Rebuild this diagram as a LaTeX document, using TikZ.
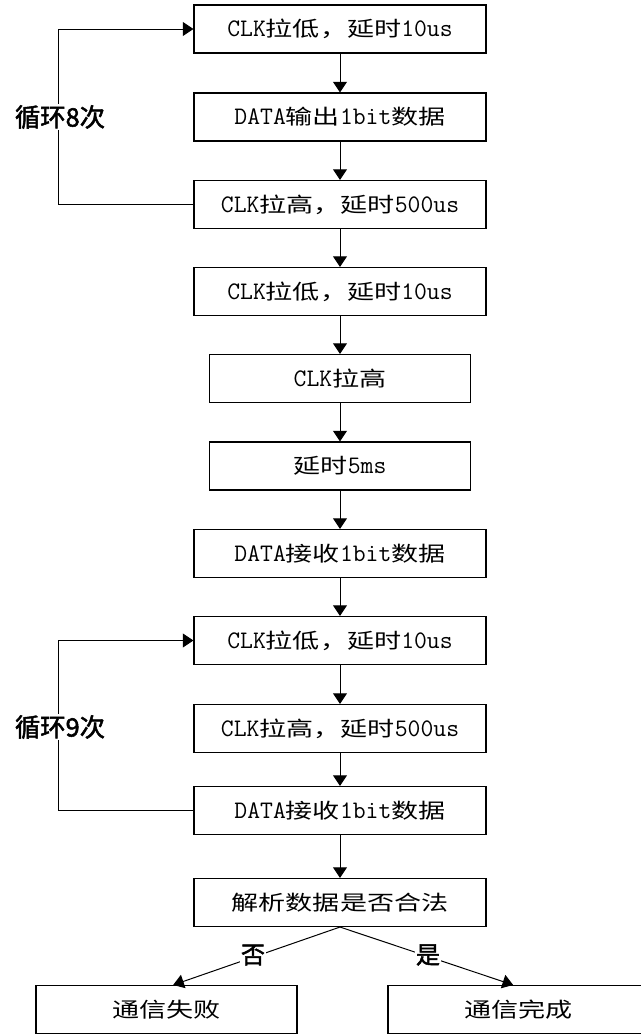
\documentclass[tikz,border=0pt]{standalone}
\usepackage{fontspec}
\setmainfont[FakeStretch=1.31]{Noto Sans CJK SC}
\newfontfamily\lat[Scale=1.22,FakeStretch=0.99]{Latin Modern Mono}
\newfontfamily\cjkb[FakeBold=2]{Noto Sans CJK SC}
\usetikzlibrary{arrows.meta}
\tikzset{
  wbox/.style={draw, line width=0.8pt, minimum width=219pt, minimum height=36pt, inner sep=0pt,
    font=\fontsize{15.5pt}{18pt}\selectfont},
  nbox/.style={wbox, minimum width=195.75pt},
  arr/.style={line width=0.75pt, -{Triangle[width=10.5pt,length=8pt]}},
  lbl/.style={fill=white, inner sep=1pt, font=\cjkb\fontsize{19pt}{22pt}\selectfont},
  ylbl/.style={fill=white, inner sep=1pt, font=\cjkb\fontsize{18pt}{21pt}\selectfont}
}
\begin{document}
\begin{tikzpicture}[x=0.75pt,y=-0.75pt]
\useasboundingbox (0,0) rectangle (640,1035);
\fill[white] (0,0) rectangle (640,1035);
\node[wbox] (b1) at (340,29) {{\lat CLK}拉低，延时{\lat 10us}};
\node[wbox] (b2) at (340,117) {{\lat DATA}输出{\lat 1bit}数据};
\node[wbox] (b3) at (340,204.5) {{\lat CLK}拉高，延时{\lat 500us}};
\node[wbox] (b4) at (340,291.5) {{\lat CLK}拉低，延时{\lat 10us}};
\node[nbox] (b5) at (340,378.5) {{\lat CLK}拉高};
\node[nbox] (b6) at (340,466) {延时{\lat 5ms}};
\node[wbox] (b7) at (340,553.5) {{\lat DATA}接收{\lat 1bit}数据};
\node[wbox] (b8) at (340,640.5) {{\lat CLK}拉低，延时{\lat 10us}};
\node[wbox] (b9) at (340,728.5) {{\lat CLK}拉高，延时{\lat 500us}};
\node[wbox] (b10) at (340,810.5) {{\lat DATA}接收{\lat 1bit}数据};
\node[wbox] (b11) at (340,902.5) {解析数据是否合法};
\node[nbox] (b12) at (166.5,1009.5) {通信失败};
\node[nbox] (b13) at (518.5,1009.5) {通信完成};

\draw[arr] (b1) -- (b2);
\draw[arr] (b2) -- (b3);
\draw[arr] (b3) -- (b4);
\draw[arr] (b4) -- (b5);
\draw[arr] (b5) -- (b6);
\draw[arr] (b6) -- (b7);
\draw[arr] (b7) -- (b8);
\draw[arr] (b8) -- (b9);
\draw[arr] (b9) -- (b10);
\draw[arr] (b10) -- (b11);
\draw[arr] (b3.west) -- ++(-135,0) |- (b1.west);
\draw[arr] (b10.west) -- ++(-135,0) |- (b8.west);
\draw[arr] (b11.south) -- ([xshift=5pt]b12.north);
\draw[arr] (b11.south) -- ([xshift=-4pt]b13.north);

\node[lbl] (l1) at (60,117) {循环{\cjkb 8}次};
\node[lbl] (l2) at (60,727) {循环{\cjkb 9}次};
\node[ylbl] (no) at (253,955) {否};
\node[ylbl] (yes) at (428,955) {是};
\end{tikzpicture}
\end{document}
